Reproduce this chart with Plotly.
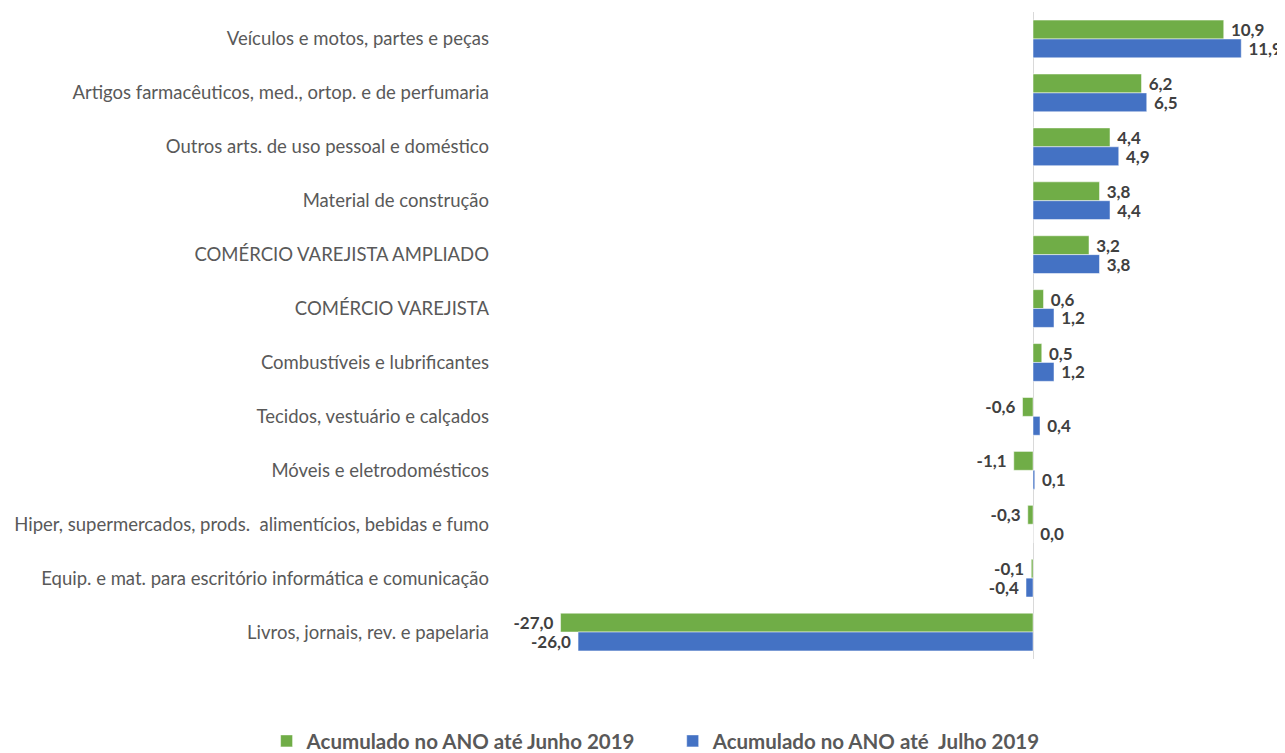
import plotly.graph_objects as go

# categorias (de cima para baixo)
categorias = [
    "Veículos e motos, partes e peças",
    "Artigos farmacêuticos, med., ortop. e de perfumaria",
    "Outros arts. de uso pessoal e doméstico",
    "Material de construção",
    "COMÉRCIO VAREJISTA AMPLIADO",
    "COMÉRCIO VAREJISTA",
    "Combustíveis e lubrificantes",
    "Tecidos, vestuário e calçados",
    "Móveis e eletrodomésticos",
    "Hiper, supermercados, prods.  alimentícios, bebidas e fumo",
    "Equip. e mat. para escritório informática e comunicação",
    "Livros, jornais, rev. e papelaria",
]
junho = [10.9, 6.2, 4.4, 3.8, 3.2, 0.6, 0.5, -0.6, -1.1, -0.3, -0.1, -27.0]
julho = [11.9, 6.5, 4.9, 4.4, 3.8, 1.2, 1.2, 0.4, 0.1, 0.0, -0.4, -26.0]

nomes = ["Acumulado no ANO até Junho 2019", "Acumulado no ANO até  Julho 2019"]
cores = ["#70AD47", "#4472C4"]
legendas = ["legend", "legend2"]


def fmt(v):
    s = f"{v:.1f}".replace(".", ",")
    # um pouco de espaço entre a barra e o rótulo
    return s + " " if v < 0 else " " + s


fig = go.Figure()
for nome, vals, cor, leg in zip(nomes, [junho, julho], cores, legendas):
    fig.add_trace(go.Bar(
        y=categorias, x=vals, name=nome, orientation="h",
        legend=leg, showlegend=True,
        marker=dict(color=cor, line=dict(color="white", width=0.5)),
        text=[fmt(v) for v in vals], textposition="outside", constraintext="none",
        textfont=dict(family="Lato", size=17, color="#404040", weight="bold"),
        cliponaxis=False,
    ))

legfont = dict(size=20.5, color="#595959", weight="bold")

# a página tem 8px de margem no body, por isso a figura é 8px menor
fig.update_layout(
    width=1277, height=745, showlegend=True,
    barmode="group", bargap=0.3, bargroupgap=0,
    plot_bgcolor="white", paper_bgcolor="white",
    margin=dict(l=492, r=0, t=4, b=94),
    font=dict(family="Lato", size=18.5, color="#595959"),
    xaxis=dict(range=[-30.46, 14.4], showgrid=False, showticklabels=False,
               zeroline=True, zerolinecolor="#D9D9D9", zerolinewidth=1),
    yaxis=dict(autorange="reversed", showgrid=False, ticks="",
               ticklabelstandoff=10, automargin=False),
    legend=dict(orientation="h", xref="container", yref="container",
                x=0.2025, xanchor="left", y=0.016, yanchor="middle",
                itemwidth=30, font=legfont, visible=True),
    legend2=dict(orientation="h", xref="container", yref="container",
                 x=0.5205, xanchor="left", y=0.016, yanchor="middle",
                 itemwidth=30, font=legfont, visible=True),
)

fig.write_html("out.html")
